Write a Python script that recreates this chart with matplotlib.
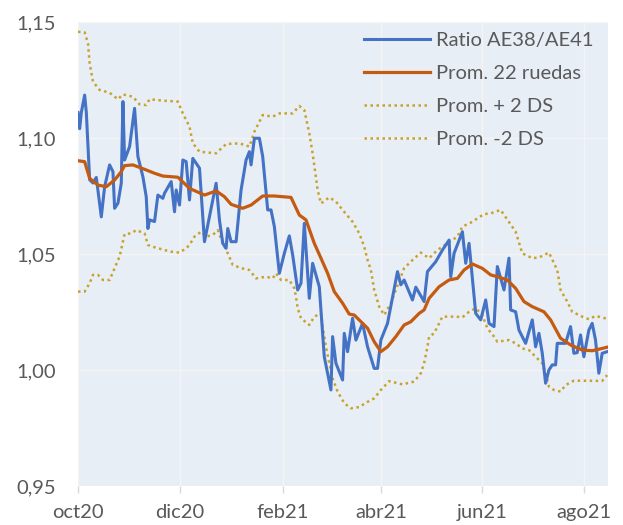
import matplotlib
matplotlib.use('Agg')
import matplotlib.pyplot as plt
import matplotlib.ticker as mticker
import pandas as pd

START = '2020-10-01'

# days since 2020-10-01
ratio_days = [0, 1, 2, 4, 5, 7, 9, 11, 14, 16, 19, 21, 22, 24, 26, 27, 28, 31, 34, 36,
              39, 41, 42, 43, 46, 48, 51, 52, 56, 58, 59, 61, 63, 65, 67, 69, 73, 76, 79, 83,
              85, 87, 89, 90, 92, 95, 98, 101, 103, 104, 106, 109, 111, 114, 116, 118, 121, 124, 127, 129,
              132, 134, 136, 139, 141, 145, 148, 152, 153, 155, 159, 160, 162, 165, 167, 171, 174, 178, 180, 182,
              186, 192, 194, 196, 201, 203, 208, 210, 215, 219, 223, 224, 226, 231, 233, 235, 239, 242, 245, 247,
              250, 252, 256, 259, 260, 263, 265, 269, 273, 275, 277, 279, 281, 283, 285, 287, 288, 293, 296, 298,
              300, 302, 304, 307, 309, 311, 313, 315, 318]
ratio_vals = [1.111, 1.104, 1.111, 1.1185, 1.111, 1.082, 1.0806, 1.083, 1.066, 1.079, 1.0884, 1.0855, 1.0697, 1.0719, 1.0805, 1.1157, 1.0905, 1.0963, 1.1128, 1.092,
              1.0833, 1.0747, 1.061, 1.0647, 1.064, 1.0754, 1.074, 1.0762, 1.0812, 1.0682, 1.0776, 1.0711, 1.0905, 1.0898, 1.0733, 1.0912, 1.087, 1.0553, 1.066, 1.0805,
              1.0647, 1.0546, 1.0525, 1.061, 1.0553, 1.0553, 1.0776, 1.0905, 1.0941, 1.0884, 1.0999, 1.0999, 1.092, 1.069, 1.069, 1.0618, 1.0417, 1.0503, 1.0578, 1.0496,
              1.0345, 1.0374, 1.0632, 1.0309, 1.046, 1.0359, 1.0057, 0.9914, 1.0144, 1.0029, 0.9957, 1.0158, 1.0079, 1.0223, 1.0129, 1.0201, 1.010, 1.0007, 1.0007, 1.0129,
              1.0201, 1.0424, 1.0367, 1.0388, 1.0302, 1.0357, 1.0295, 1.0424, 1.0467, 1.0517, 1.056, 1.0402, 1.0503, 1.0596, 1.046, 1.0546, 1.0244, 1.0216, 1.0302, 1.0201,
              1.0187, 1.0446, 1.0345, 1.0482, 1.0259, 1.0251, 1.0172, 1.0115, 1.0216, 1.010, 1.0158, 1.0072, 0.9943, 1.000, 1.0022, 1.0022, 1.0115, 1.0115, 1.0187, 1.0072,
              1.0075, 1.0151, 1.0057, 1.0172, 1.0201, 1.0129, 0.9986, 1.0072, 1.0079]

avg_days = [0, 4, 7, 12, 17, 22, 26, 28, 33, 40, 46, 51, 60, 67, 76, 83, 88, 92, 99, 104,
            111, 118, 128, 133, 137, 142, 146, 150, 154, 159, 163, 166, 174, 178, 182, 186, 191, 196, 200, 205,
            208, 211, 217, 223, 228, 232, 237, 243, 248, 253, 258, 263, 268, 273, 280, 284, 290, 296, 303, 309,
            315, 319]
avg_vals = [1.0902, 1.0898, 1.0826, 1.0797, 1.079, 1.0819, 1.0855, 1.0881, 1.0884, 1.0865, 1.0848, 1.0836, 1.0831, 1.0783, 1.0754, 1.0772, 1.0747, 1.0714, 1.0697, 1.0711,
            1.075, 1.075, 1.0744, 1.0668, 1.0647, 1.0546, 1.0482, 1.0417, 1.0338, 1.0288, 1.0241, 1.0237, 1.018, 1.0122, 1.0079, 1.010, 1.0144, 1.0194, 1.0208, 1.0244,
            1.0259, 1.0309, 1.0359, 1.0388, 1.0395, 1.0431, 1.0457, 1.0438, 1.041, 1.040, 1.0388, 1.0352, 1.0295, 1.0273, 1.0251, 1.0216, 1.0137, 1.0108, 1.0086, 1.0083,
            1.0093, 1.010]

upper_days = [0, 4, 6, 7, 9, 13, 19, 24, 27, 33, 37, 41, 43, 51, 60, 63, 67, 69, 73, 83,
              89, 97, 103, 106, 111, 117, 121, 129, 133, 136, 139, 141, 144, 146, 151, 155, 159, 165, 169, 172,
              174, 176, 178, 181, 184, 188, 191, 196, 201, 206, 211, 216, 222, 228, 231, 236, 244, 248, 254, 263,
              267, 273, 277, 283, 288, 290, 294, 297, 303, 307, 311, 319]
upper_vals = [1.1458, 1.1455, 1.1408, 1.1322, 1.1243, 1.1207, 1.1195, 1.1167, 1.1188, 1.1178, 1.1145, 1.1142, 1.1167, 1.1161, 1.1157, 1.1106, 1.1049, 1.0977, 1.0941, 1.0934,
              1.0974, 1.0977, 1.0963, 1.1027, 1.1099, 1.1092, 1.1106, 1.1106, 1.1138, 1.112, 1.102, 1.0934, 1.0776, 1.0718, 1.0744, 1.0726, 1.069, 1.0639, 1.0589, 1.0532,
              1.0474, 1.0431, 1.0345, 1.0273, 1.0237, 1.0288, 1.0345, 1.0439, 1.0474, 1.0506, 1.0482, 1.0517, 1.0546, 1.0575, 1.0618, 1.0635, 1.0672, 1.0675, 1.069, 1.0596,
              1.0503, 1.0482, 1.0485, 1.0506, 1.0431, 1.0345, 1.0295, 1.0251, 1.023, 1.0219, 1.0233, 1.0219]

lower_days = [0, 4, 7, 9, 12, 15, 19, 22, 25, 28, 32, 35, 40, 42, 46, 52, 56, 61, 65, 67,
              70, 74, 77, 81, 84, 87, 90, 93, 98, 103, 107, 113, 117, 119, 122, 127, 130, 131, 132, 134,
              139, 142, 146, 147, 149, 151, 153, 156, 160, 164, 169, 173, 178, 182, 187, 195, 202, 206, 208, 210,
              211, 214, 217, 219, 227, 231, 235, 239, 243, 246, 250, 252, 259, 263, 267, 271, 275, 279, 281, 283,
              286, 290, 293, 298, 315, 318]
lower_vals = [1.0338, 1.0338, 1.0374, 1.041, 1.041, 1.0388, 1.0388, 1.0439, 1.0489, 1.0586, 1.0589, 1.0603, 1.0589, 1.0539, 1.0529, 1.0517, 1.051, 1.0506, 1.0525, 1.0539,
              1.0575, 1.0596, 1.0575, 1.0582, 1.0603, 1.0546, 1.0503, 1.0453, 1.0439, 1.0431, 1.0395, 1.0402, 1.0395, 1.0417, 1.0388, 1.0388, 1.0352, 1.0316, 1.0266, 1.0223,
              1.0194, 1.023, 1.0244, 1.0187, 1.010, 1.0029, 0.9964, 0.9907, 0.9857, 0.9835, 0.984, 0.9859, 0.9878, 0.9914, 0.9952, 0.9938, 0.995, 0.9986, 1.0029, 1.010,
              1.0144, 1.0158, 1.0201, 1.023, 1.023, 1.0227, 1.0251, 1.0266, 1.0237, 1.018, 1.0144, 1.0122, 1.0129, 1.0115, 1.0093, 1.0086, 1.0057, 1.0029, 0.9986, 0.9928,
              0.9914, 0.9907, 0.9935, 0.9954, 0.9953, 0.9978]

series_labels = ['Ratio AE38/AE41', 'Prom. 22 ruedas', 'Prom. + 2 DS', 'Prom. -2 DS']
tick_dates = ['2020-10-01', '2020-12-01', '2021-02-01', '2021-04-01', '2021-06-01', '2021-08-01']
tick_labels = ['oct20', 'dic20', 'feb21', 'abr21', 'jun21', 'ago21']
y_ticks = [0.95, 1.00, 1.05, 1.10, 1.15]
x_end_day = 318.5


def to_dates(days):
    return pd.Timestamp(START) + pd.to_timedelta(days, unit='D')


plt.rcParams['font.family'] = ['Lato', 'DejaVu Sans']

TXT = '#595959'
FS = 14.5
fig = plt.figure(figsize=(6.23, 5.25), dpi=100)
ax = fig.add_axes([78 / 623, 39 / 525, 530 / 623, 464 / 525])
ax.set_facecolor('#E8EEF6')

gold = '#C9A22C'
ax.plot(to_dates(ratio_days), ratio_vals, color='#4472C4', lw=2.2, label=series_labels[0], zorder=3)
ax.plot(to_dates(avg_days), avg_vals, color='#C55A11', lw=2.3, label=series_labels[1], zorder=4)
ax.plot(to_dates(upper_days), upper_vals, color=gold, lw=1.8, ls=(0, (1, 1.4)), label=series_labels[2], zorder=2)
ax.plot(to_dates(lower_days), lower_vals, color=gold, lw=1.8, ls=(0, (1, 1.4)), label=series_labels[3], zorder=2)

ax.set_ylim(0.95, 1.15)
ax.set_xlim(to_dates([0])[0], to_dates([x_end_day])[0])
ax.set_yticks(y_ticks)
ax.yaxis.set_major_formatter(mticker.FuncFormatter(lambda v, p: f'{v:.2f}'.replace('.', ',')))
ax.set_xticks(pd.to_datetime(tick_dates))
ax.set_xticklabels(tick_labels)

ax.grid(True, color='#F4F4F4', lw=1.0, zorder=0)
ax.set_axisbelow(True)
for s in ax.spines.values():
    s.set_visible(False)
ax.tick_params(axis='y', length=0, pad=16, labelsize=FS, labelcolor=TXT)
ax.tick_params(axis='x', length=5, width=1, color='#D9D9D9', pad=8, labelsize=FS, labelcolor=TXT)

leg = ax.legend(loc='upper left', bbox_to_anchor=(0.5396, 0.978), frameon=False,
                handlelength=3.3, handletextpad=0.3, labelspacing=0.78, fontsize=FS,
                borderaxespad=0, borderpad=0)
for t in leg.get_texts():
    t.set_color(TXT)

fig.savefig('out.png', dpi=100)
